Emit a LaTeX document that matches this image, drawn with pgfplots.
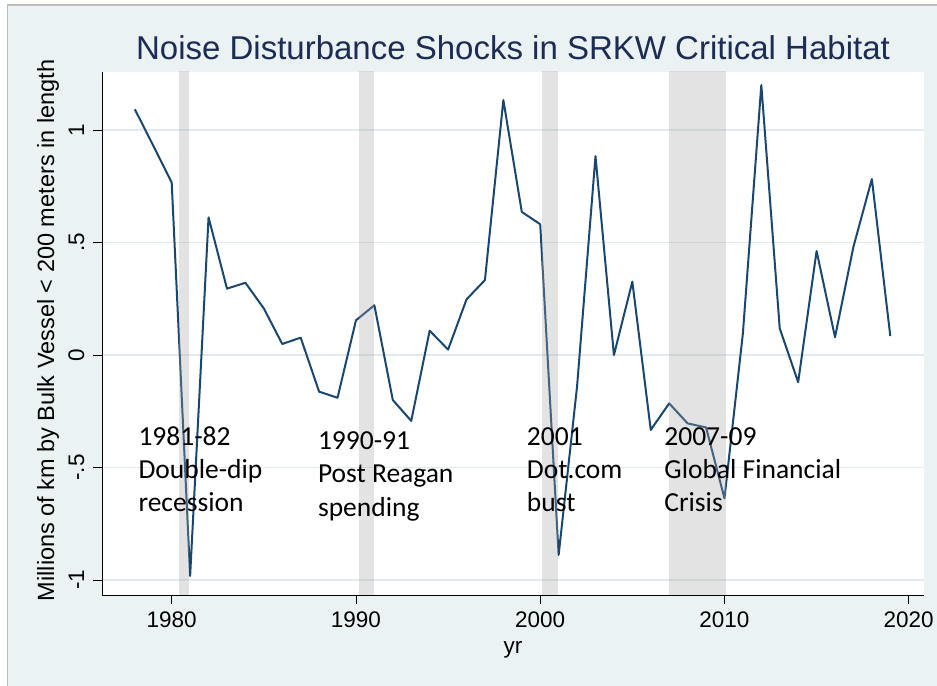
\documentclass[border=0pt]{standalone}
\usepackage{pgfplots}
\pgfplotsset{compat=1.18}
\usepackage{fontspec}
\setmainfont{Liberation Sans}
\newfontfamily\calibri{Carlito}
\definecolor{bgc}{RGB}{234,242,243}
\definecolor{gridc}{RGB}{225,235,237}
\definecolor{navyline}{RGB}{26,71,111}
\definecolor{titlec}{RGB}{28,44,84}
\definecolor{bandc}{RGB}{165,165,165}
\definecolor{framec}{RGB}{190,190,190}

\begin{document}
\begin{tikzpicture}
\useasboundingbox (0bp,0bp) rectangle (937bp,686bp);
\fill[white] (0bp,0bp) rectangle (937bp,686bp);
\fill[bgc] (7.5bp,0bp) rectangle (937bp,681bp);
\draw[framec, line width=1.2bp] (7.5bp,0bp) -- (7.5bp,681bp) -- (937bp,681bp);
\begin{axis}[
  at={(102bp,91bp)}, anchor=south west,
  scale only axis, width=822bp, height=523bp,
  xmin=1976.217, xmax=2020.83, ymin=-1.0667, ymax=1.2578,
  axis background/.style={fill=white},
  axis x line*=bottom, axis y line*=left,
  axis line style={black, line width=0.9bp, -},
  xtick={1980,1990,2000,2010,2020},
  xticklabels={1980,1990,2000,2010,2020},
  ytick={-1,-0.5,0,0.5,1},
  yticklabels={-1,-.5,0,.5,1},
  tick align=outside, major tick length=9bp,
  tick style={black, line width=0.9bp},
  xticklabel style={font=\fontsize{22.5bp}{27bp}\selectfont, anchor=base, yshift=-23.3bp, inner sep=0pt},
  yticklabel style={font=\fontsize{22.5bp}{27bp}\selectfont, xshift=-9bp, rotate=90, anchor=base, inner sep=0pt},
  ymajorgrids, grid style={gridc, line width=1.5bp},
]
\addplot[navyline, line width=2bp, line join=round, mark=none] coordinates {
(1978,1.092) (1979,0.93) (1980,0.766) (1981,-0.982) (1982,0.612) (1983,0.295)
(1984,0.321) (1985,0.207) (1986,0.049) (1987,0.077) (1988,-0.163) (1989,-0.190)
(1990,0.154) (1991,0.221) (1992,-0.200) (1993,-0.293) (1994,0.108) (1995,0.024)
(1996,0.247) (1997,0.333) (1998,1.133) (1999,0.636) (2000,0.581) (2001,-0.889)
(2002,-0.14) (2003,0.884) (2004,0.0) (2005,0.326) (2006,-0.333) (2007,-0.215)
(2008,-0.304) (2009,-0.322) (2010,-0.637) (2011,0.096) (2012,1.2) (2013,0.118)
(2014,-0.121) (2015,0.462) (2016,0.079) (2017,0.481) (2018,0.782) (2019,0.084)
};
\addplot[draw=none, fill=bandc, fill opacity=0.3] coordinates {(1980.42,-2) (1980.96,-2) (1980.96,2) (1980.42,2)} -- cycle;
\addplot[draw=none, fill=bandc, fill opacity=0.3] coordinates {(1990.14,-2) (1990.97,-2) (1990.97,2) (1990.14,2)} -- cycle;
\addplot[draw=none, fill=bandc, fill opacity=0.3] coordinates {(2000.09,-2) (2000.98,-2) (2000.98,2) (2000.09,2)} -- cycle;
\addplot[draw=none, fill=bandc, fill opacity=0.3] coordinates {(2006.98,-2) (2010.08,-2) (2010.08,2) (2006.98,2)} -- cycle;
\tikzset{ann/.style={anchor=base west, inner sep=0pt, font=\calibri\fontsize{27.5bp}{33bp}\selectfont}}
\node[ann] at (axis cs:1978.19,-0.4044) {1981-82};
\node[ann] at (axis cs:1978.19,-0.5511) {Double-dip};
\node[ann] at (axis cs:1978.19,-0.6978) {recession};
\node[ann] at (axis cs:1987.93,-0.4222) {1990-91};
\node[ann] at (axis cs:1987.93,-0.5689) {Post Reagan};
\node[ann] at (axis cs:1987.93,-0.7156) {spending};
\node[ann] at (axis cs:1999.27,-0.4044) {2001};
\node[ann] at (axis cs:1999.27,-0.5511) {Dot.com};
\node[ann] at (axis cs:1999.27,-0.6978) {bust};
\node[ann] at (axis cs:2006.73,-0.4044) {2007-09};
\node[ann] at (axis cs:2006.73,-0.5511) {Global Financial};
\node[ann] at (axis cs:2006.73,-0.6978) {Crisis};
\end{axis}
\node[anchor=base, text=titlec, inner sep=0pt, font=\fontsize{33bp}{40bp}\selectfont] at (513bp,626bp) {Noise Disturbance Shocks in SRKW Critical Habitat};
\node[anchor=base, inner sep=0pt, font=\fontsize{22.5bp}{27bp}\selectfont] at (513bp,33bp) {yr};
\node[anchor=base, rotate=90, inner sep=0pt, font=\fontsize{23.5bp}{28bp}\selectfont] at (54bp,355.5bp) {Millions of km by Bulk Vessel < 200 meters in length};
\end{tikzpicture}
\end{document}
